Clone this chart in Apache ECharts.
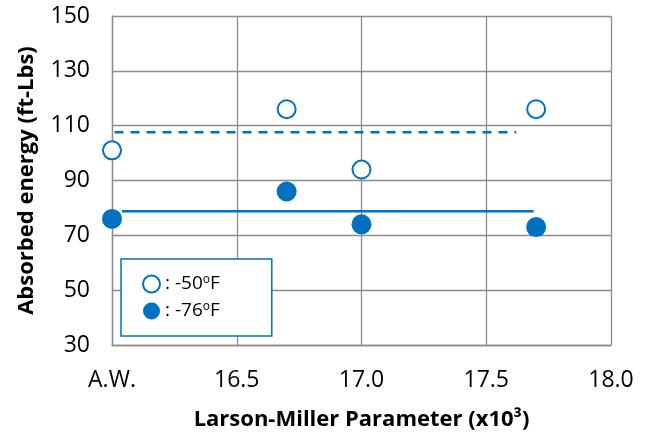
<!DOCTYPE html>
<html>
<head>
<meta charset="utf-8">
<script src="https://cdn.jsdelivr.net/npm/echarts@6/dist/echarts.min.js"></script>
<style>html,body{margin:0;padding:0;background:#fff}#chart{width:645px;height:432px}</style>
</head>
<body>
<div id="chart"></div>
<script>
// ---- data ----
const xValues = [16.0, 16.7, 17.0, 17.7];          // Larson-Miller parameter (x10^3); 16.0 = A.W.
const energyMinus50 = [101, 116, 94, 116];        // -50 F, open circles
const energyMinus76 = [76, 86, 74, 73];           // -76 F, filled circles
const avgMinus50 = [[16.01, 107.6], [17.62, 107.6]]; // dashed average line
const avgMinus76 = [[16.04, 78.8], [17.69, 78.8]];   // solid average line
const xTickValues = [16.0, 16.5, 17.0, 17.5, 18.0];
const xTickLabels = ['A.W.', '16.5', '17.0', '17.5', '18.0'];
const yTicks = [30, 50, 70, 90, 110, 130, 150];
const seriesNames = ['-50F', '-76F'];

const BLUE = '#0070C0';
const GRID = '#8c8c8c';
const FONT = 'Open Sans';

const chart = echarts.init(document.getElementById('chart'), null, {renderer: 'canvas'});
const option = {
  animation: false,
  grid: {left: 112, right: 34, top: 16, bottom: 87, containLabel: false, outerBoundsMode: 'none'},
  xAxis: {
    type: 'value', min: 16, max: 18, interval: 0.5,
    name: 'Larson-Miller Parameter (x10³)',
    nameLocation: 'middle', nameGap: 64,
    nameTextStyle: {fontFamily: FONT, fontWeight: 'bold', fontSize: 22, color: '#000'},
    axisLine: {show: true, lineStyle: {color: GRID, width: 1.3}},
    axisTick: {show: false},
    splitLine: {show: true, lineStyle: {color: GRID, width: 1.3}},
    axisLabel: {
      fontFamily: FONT, fontSize: 23, color: '#000', margin: 24,
      formatter: v => { const i = xTickValues.findIndex(t => Math.abs(t - v) < 1e-6); return i >= 0 ? xTickLabels[i] : ''; }
    }
  },
  yAxis: {
    type: 'value', min: yTicks[0], max: yTicks[yTicks.length - 1], interval: 20,
    name: 'Absorbed energy (ft-Lbs)',
    nameLocation: 'middle', nameGap: 74,
    nameTextStyle: {fontFamily: FONT, fontWeight: 'bold', fontSize: 22, color: '#000'},
    axisLine: {show: true, lineStyle: {color: GRID, width: 1.3}},
    axisTick: {show: false},
    splitLine: {show: true, lineStyle: {color: GRID, width: 1.3}},
    axisLabel: {fontFamily: FONT, fontSize: 23, color: '#000', margin: 22}
  },
  legend: {
    data: seriesNames,
    orient: 'vertical',
    left: 121, top: 259,
    padding: [15, 52, 15, 21],
    itemWidth: 17, itemHeight: 17, itemGap: 7,
    borderColor: BLUE, borderWidth: 1.5, borderRadius: 0,
    backgroundColor: '#fff',
    formatter: name => '{a|: ' + name.replace('F', '') + '}{s|o}{a|F}',
    textStyle: {
      fontFamily: FONT, fontSize: 19, color: '#000', lineHeight: 20,
      rich: {
        a: {fontFamily: FONT, fontSize: 19, color: '#000', lineHeight: 20},
        s: {fontFamily: FONT, fontSize: 12, color: '#000', lineHeight: 12, verticalAlign: 'top'}
      }
    }
  },
  series: [
    {
      name: 'avg50', type: 'line', data: avgMinus50, symbol: 'none', z: 2,
      lineStyle: {color: BLUE, width: 2.5, type: [9, 7]}
    },
    {
      name: 'avg76', type: 'line', data: avgMinus76, symbol: 'none', z: 2,
      lineStyle: {color: BLUE, width: 2.5}
    },
    {
      name: seriesNames[0], type: 'scatter', z: 3,
      data: xValues.map((x, i) => [x, energyMinus50[i]]),
      symbol: 'circle', symbolSize: 18,
      itemStyle: {color: '#fff', borderColor: BLUE, borderWidth: 2, opacity: 1}
    },
    {
      name: seriesNames[1], type: 'scatter', z: 3,
      data: xValues.map((x, i) => [x, energyMinus76[i]]),
      symbol: 'circle', symbolSize: 20,
      itemStyle: {color: BLUE, opacity: 1}
    }
  ]
};
chart.setOption(option);
</script>
</body>
</html>
